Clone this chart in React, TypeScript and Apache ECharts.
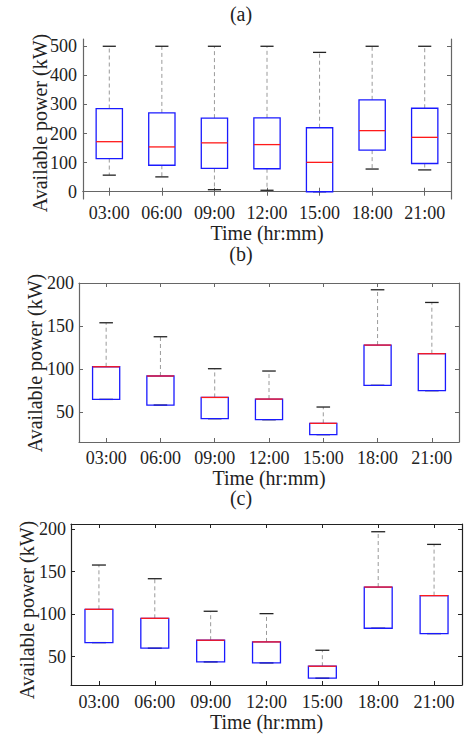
import React, { useEffect, useRef } from "react";
import * as echarts from "echarts";

const categories = ["03:00", "06:00", "09:00", "12:00", "15:00", "18:00", "21:00"];

// Panel (a)
const aMin = [57, 51, 7, 5, 0, 78, 75];
const aQ1 = [114, 91, 80, 79, 0, 143, 97];
const aMed = [172, 154, 168, 162, 101, 210, 187];
const aQ3 = [286, 271, 253, 254, 220, 316, 287];
const aMax = [500, 500, 500, 500, 479, 500, 500];
const aTicks = [0, 100, 200, 300, 400, 500];

// Panel (b)
const bMin = [64.7, 58.1, 42.2, 41, 23.6, 81.1, 74.9];
const bQ1 = [64.7, 58.1, 42.2, 41, 23.6, 81.1, 74.9];
const bMed = [102.8, 92, 67, 65.1, 36.8, 128.1, 118];
const bQ3 = [102.8, 92, 67, 65.1, 36.8, 128.1, 118];
const bMax = [154.1, 137.8, 100.5, 97.8, 55.8, 192.6, 177.8];
const bTicks = [50, 100, 150, 200];

// Panel (c)
const cMin = [66.4, 59.8, 43.7, 42.5, 24.5, 83.3, 77];
const cQ1 = [66.4, 59.8, 43.7, 42.5, 24.5, 83.3, 77];
const cMed = [105.6, 95, 69.2, 67.2, 38.6, 131.8, 121.7];
const cQ3 = [105.6, 95, 69.2, 67.2, 38.6, 131.8, 121.7];
const cMax = [157.7, 141.6, 103.3, 100.5, 57.4, 196.9, 182];
const cTicks = [50, 100, 150, 200];

const FONT = "'Liberation Serif', 'Times New Roman', serif";
const TXT = "#222";

function rows(mn: number[], q1: number[], md: number[], q3: number[], mx: number[]) {
  return categories.map((_, i) => [i, mn[i], q1[i], md[i], q3[i], mx[i]]);
}

function renderBox(params: any, api: any) {
  const x = api.value(0);
  const lo = api.coord([x, api.value(1)]);
  const q1 = api.coord([x, api.value(2)]);
  const md = api.coord([x, api.value(3)]);
  const q3 = api.coord([x, api.value(4)]);
  const hi = api.coord([x, api.value(5)]);
  const bw = api.size([1, 0])[0] * 0.5;
  const cw = bw * 0.5;
  const cx = q1[0];
  const dash = { stroke: "#9a9a9a", lineWidth: 1, lineDash: [4, 3] };
  const cap = { stroke: "#222", lineWidth: 1.3 };
  return {
    type: "group",
    children: [
      { type: "line", shape: { x1: cx, y1: q3[1], x2: cx, y2: hi[1] }, style: dash },
      { type: "line", shape: { x1: cx, y1: q1[1], x2: cx, y2: lo[1] }, style: dash },
      { type: "line", shape: { x1: cx - cw / 2, y1: hi[1], x2: cx + cw / 2, y2: hi[1] }, style: cap },
      { type: "line", shape: { x1: cx - cw / 2, y1: lo[1], x2: cx + cw / 2, y2: lo[1] }, style: cap },
      {
        type: "rect",
        shape: { x: cx - bw / 2, y: q3[1], width: bw, height: q1[1] - q3[1] },
        style: { fill: "none", stroke: "#1a1aff", lineWidth: 1.3 },
      },
      {
        type: "line",
        shape: { x1: cx - bw / 2, y1: md[1], x2: cx + bw / 2, y2: md[1] },
        style: { stroke: "#ff1a1a", lineWidth: 1.3 },
      },
    ],
  };
}

export default function App() {
  const ref = useRef<HTMLDivElement>(null);
  useEffect(() => {
    if (!ref.current) return;
    const chart = echarts.init(ref.current, null, { renderer: "svg" });

    const panels = [
      { grid: { left: 83, top: 39, width: 368, height: 160 }, min: -25, max: 525, ticks: aTicks, border: "#666", xMargin: 5, xGap: 34, yMargin: 6, title: { text: "(a)", y: 14 }, yName: { x: 40, y: 123 }, data: rows(aMin, aQ1, aMed, aQ3, aMax) },
      { grid: { left: 79, top: 283, width: 380, height: 159 }, min: 15, max: 200.5, ticks: bTicks, border: "#666", xMargin: 7, xGap: 32, yMargin: 5, title: { text: "(b)", y: 254 }, yName: { x: 35, y: 363 }, data: rows(bMin, bQ1, bMed, bQ3, bMax) },
      { grid: { left: 71, top: 524, width: 391, height: 161 }, min: 16.5, max: 206, ticks: cTicks, border: "#222", xMargin: 8, xGap: 36, yMargin: 5, title: { text: "(c)", y: 498 }, yName: { x: 27, y: 610 }, data: rows(cMin, cQ1, cMed, cQ3, cMax) },
    ];

    const grid: any[] = [];
    const xAxis: any[] = [];
    const yAxis: any[] = [];
    const series: any[] = [];
    const graphic: any[] = [];

    panels.forEach((p, gi) => {
      grid.push({ ...p.grid, containLabel: false });
      const line = { show: true, lineStyle: { color: p.border, width: 1.2 } };
      const tick = { show: true, inside: true, length: 4, alignWithLabel: true, interval: 0, lineStyle: { color: p.border } };
      xAxis.push({
        type: "category",
        gridIndex: gi,
        data: categories,
        position: "bottom",
        axisLine: line,
        axisTick: tick,
        axisLabel: { color: TXT, fontFamily: FONT, fontSize: 18, margin: p.xMargin, interval: 0, hideOverlap: false },
        name: "Time (hr:mm)",
        nameLocation: "middle",
        nameGap: p.xGap,
        nameTextStyle: { color: TXT, fontFamily: FONT, fontSize: 20, lineHeight: 18, verticalAlign: "middle" },
        splitLine: { show: false },
      });
      xAxis.push({
        type: "category",
        gridIndex: gi,
        data: categories,
        position: "top",
        axisLine: line,
        axisTick: tick,
        axisLabel: { show: false },
        splitLine: { show: false },
      });
      const ytick = { show: true, inside: true, length: 4, lineStyle: { color: p.border }, customValues: p.ticks };
      yAxis.push({
        type: "value",
        gridIndex: gi,
        min: p.min,
        max: p.max,
        position: "left",
        axisLine: line,
        axisTick: ytick,
        axisLabel: { color: TXT, fontFamily: FONT, fontSize: 18, margin: p.yMargin, customValues: p.ticks },
        splitLine: { show: false },
      });
      yAxis.push({
        type: "value",
        gridIndex: gi,
        min: p.min,
        max: p.max,
        position: "right",
        axisLine: line,
        axisTick: ytick,
        axisLabel: { show: false },
        splitLine: { show: false },
      });
      series.push({
        type: "custom",
        xAxisIndex: gi * 2,
        yAxisIndex: gi * 2,
        data: p.data,
        encode: { x: 0, y: [1, 2, 3, 4, 5] },
        renderItem: renderBox,
        clip: false,
      });
      graphic.push({
        type: "text",
        x: 241,
        y: p.title.y,
        style: { text: p.title.text, fill: TXT, fontFamily: FONT, fontSize: 20, lineHeight: 18, textAlign: "center", textVerticalAlign: "middle" },
      });
      graphic.push({
        type: "text",
        x: p.yName.x,
        y: p.yName.y,
        rotation: Math.PI / 2,
        style: { text: "Available power (kW)", fill: TXT, fontFamily: FONT, fontSize: 20, lineHeight: 18, textAlign: "center", textVerticalAlign: "middle" },
      });
    });

    chart.setOption({
      animation: false,
      backgroundColor: "#fff",
      grid,
      xAxis,
      yAxis,
      series,
      graphic,
    });
    return () => chart.dispose();
  }, []);
  return <div ref={ref} style={{ position: "absolute", left: 0, top: 0, width: 465, height: 735 }} />;
}
